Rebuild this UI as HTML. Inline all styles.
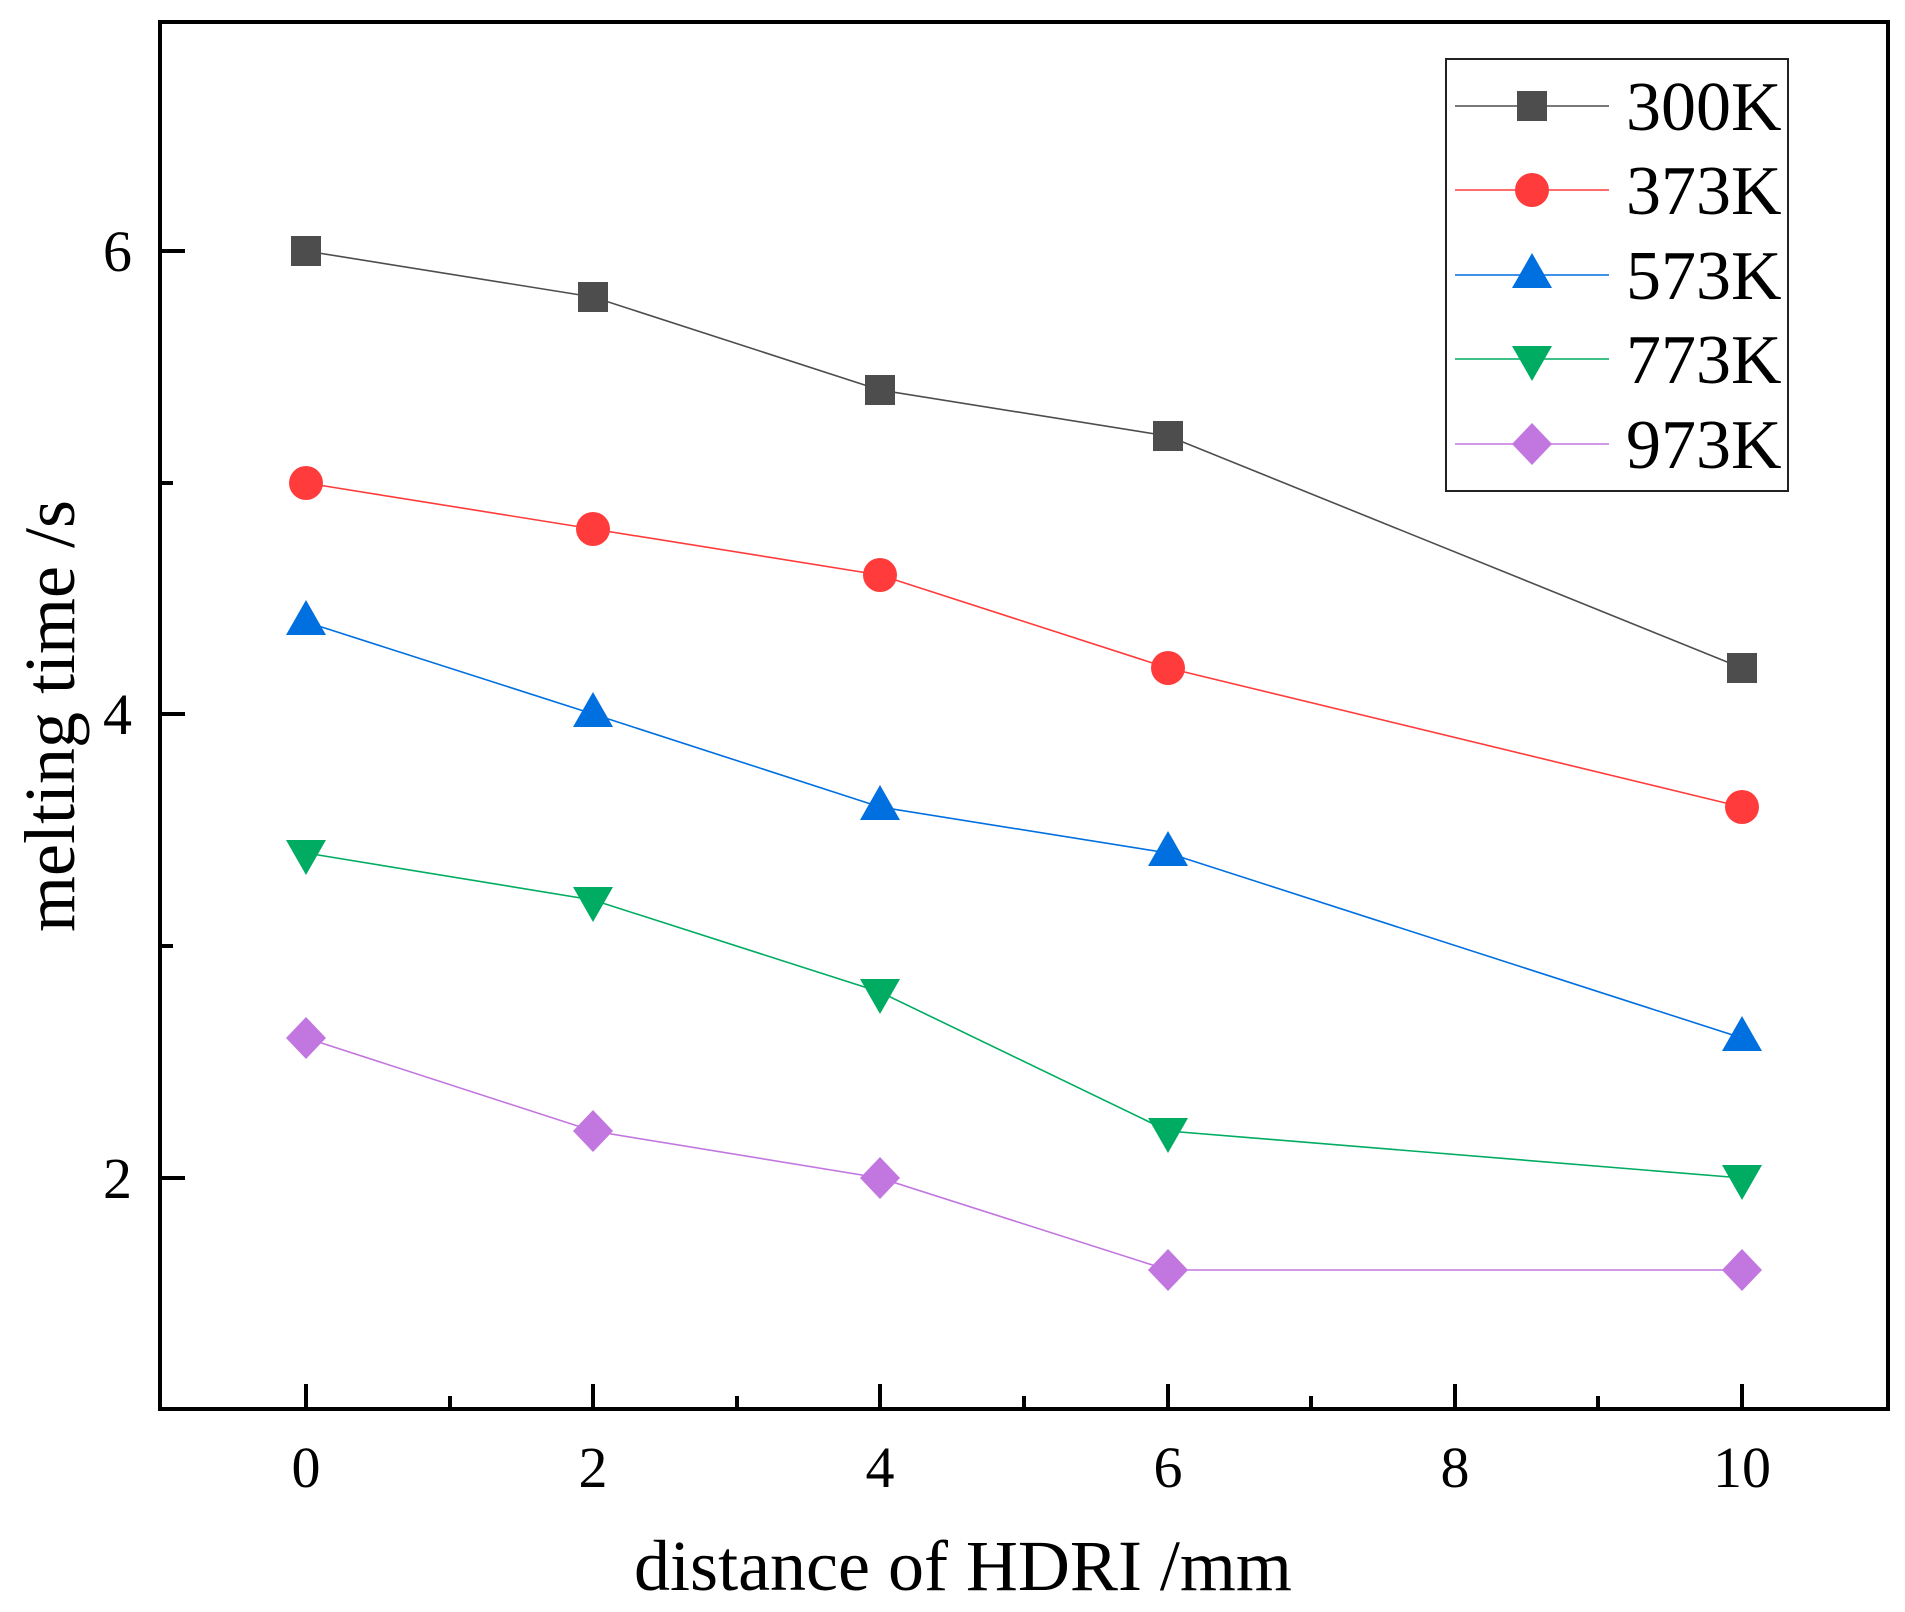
<!DOCTYPE html>
<html><head><meta charset="utf-8"><style>
html,body{margin:0;padding:0;background:#fff}
svg{display:block}
text{font-family:"Liberation Serif","Times New Roman",serif;fill:#000}
</style></head><body>
<svg width="1905" height="1612" viewBox="0 0 1905 1612" xmlns="http://www.w3.org/2000/svg">
<defs>
<g id="sq"><rect x="-15" y="-15" width="30" height="30" fill="#4d4d4d"/></g>
<g id="ci"><circle r="17" fill="#ff3b3b"/></g>
<g id="tu"><polygon points="0,-22 20,13 -20,13" fill="#006fe0"/></g>
<g id="td"><polygon points="0,22 20,-13 -20,-13" fill="#00ac62"/></g>
<g id="di"><polygon points="0,-21 20,0 0,21 -20,0" fill="#c277e0"/></g>
</defs>
<!-- axes frame -->
<rect x="160" y="22" width="1728" height="1387" fill="none" stroke="#000" stroke-width="4"/>
<!-- x ticks -->
<g stroke="#000" stroke-width="4">
<line x1="306" y1="1409" x2="306" y2="1384"/>
<line x1="593" y1="1409" x2="593" y2="1384"/>
<line x1="880" y1="1409" x2="880" y2="1384"/>
<line x1="1168" y1="1409" x2="1168" y2="1384"/>
<line x1="1455" y1="1409" x2="1455" y2="1384"/>
<line x1="1742" y1="1409" x2="1742" y2="1384"/>
<line x1="450" y1="1409" x2="450" y2="1396"/>
<line x1="737" y1="1409" x2="737" y2="1396"/>
<line x1="1024" y1="1409" x2="1024" y2="1396"/>
<line x1="1311" y1="1409" x2="1311" y2="1396"/>
<line x1="1598" y1="1409" x2="1598" y2="1396"/>
<!-- y ticks -->
<line x1="160" y1="251" x2="185" y2="251"/>
<line x1="160" y1="714" x2="185" y2="714"/>
<line x1="160" y1="1178" x2="185" y2="1178"/>
<line x1="160" y1="483" x2="173" y2="483"/>
<line x1="160" y1="946" x2="173" y2="946"/>
</g>
<!-- tick labels -->
<g font-size="58" text-anchor="middle">
<text x="306" y="1487">0</text>
<text x="593" y="1487">2</text>
<text x="880" y="1487">4</text>
<text x="1168" y="1487">6</text>
<text x="1455" y="1487">8</text>
<text x="1742" y="1487">10</text>
</g>
<g font-size="58" text-anchor="end">
<text x="132" y="271">6</text>
<text x="132" y="734">4</text>
<text x="132" y="1198">2</text>
</g>
<text x="963" y="1590" font-size="72" text-anchor="middle">distance of HDRI /mm</text>
<text transform="translate(74,716) rotate(-90)" font-size="72" text-anchor="middle">melting time /s</text>
<!-- series: x(v)=306+143.6v, y(v)=1409-(v-1)*231.6 -->
<polyline fill="none" stroke="#4d4d4d" stroke-width="1.6" points="306,251 593,297 880,390 1168,436 1742,668"/>
<polyline fill="none" stroke="#ff3b3b" stroke-width="1.6" points="306,483 593,529 880,575 1168,668 1742,807"/>
<polyline fill="none" stroke="#006fe0" stroke-width="1.6" points="306,622 593,714 880,807 1168,853 1742,1038"/>
<polyline fill="none" stroke="#00ac62" stroke-width="1.6" points="306,853 593,900 880,992 1168,1131 1742,1178"/>
<polyline fill="none" stroke="#c277e0" stroke-width="1.6" points="306,1038 593,1131 880,1178 1168,1270 1742,1270"/>
<use href="#sq" x="306" y="251"/><use href="#sq" x="593" y="297"/><use href="#sq" x="880" y="390"/><use href="#sq" x="1168" y="436"/><use href="#sq" x="1742" y="668"/>
<use href="#ci" x="306" y="483"/><use href="#ci" x="593" y="529"/><use href="#ci" x="880" y="575"/><use href="#ci" x="1168" y="668"/><use href="#ci" x="1742" y="807"/>
<use href="#tu" x="306" y="622"/><use href="#tu" x="593" y="714"/><use href="#tu" x="880" y="807"/><use href="#tu" x="1168" y="853"/><use href="#tu" x="1742" y="1038"/>
<use href="#td" x="306" y="853"/><use href="#td" x="593" y="900"/><use href="#td" x="880" y="992"/><use href="#td" x="1168" y="1131"/><use href="#td" x="1742" y="1178"/>
<use href="#di" x="306" y="1038"/><use href="#di" x="593" y="1131"/><use href="#di" x="880" y="1178"/><use href="#di" x="1168" y="1270"/><use href="#di" x="1742" y="1270"/>
<!-- legend -->
<rect x="1446" y="59" width="342" height="432" fill="#fff" stroke="#222" stroke-width="2"/>
<g stroke-width="1.6">
<line x1="1455" y1="106" x2="1609" y2="106" stroke="#4d4d4d"/>
<line x1="1455" y1="190" x2="1609" y2="190" stroke="#ff3b3b"/>
<line x1="1455" y1="275" x2="1609" y2="275" stroke="#006fe0"/>
<line x1="1455" y1="359" x2="1609" y2="359" stroke="#00ac62"/>
<line x1="1455" y1="444" x2="1609" y2="444" stroke="#c277e0"/>
</g>
<use href="#sq" x="1532" y="106"/>
<use href="#ci" x="1532" y="190"/>
<use href="#tu" x="1532" y="275"/>
<use href="#td" x="1532" y="359"/>
<use href="#di" x="1532" y="444"/>
<g font-size="70">
<text x="1626" y="130">300K</text>
<text x="1626" y="214">373K</text>
<text x="1626" y="299">573K</text>
<text x="1626" y="383">773K</text>
<text x="1626" y="468">973K</text>
</g>
</svg>
</body></html>
